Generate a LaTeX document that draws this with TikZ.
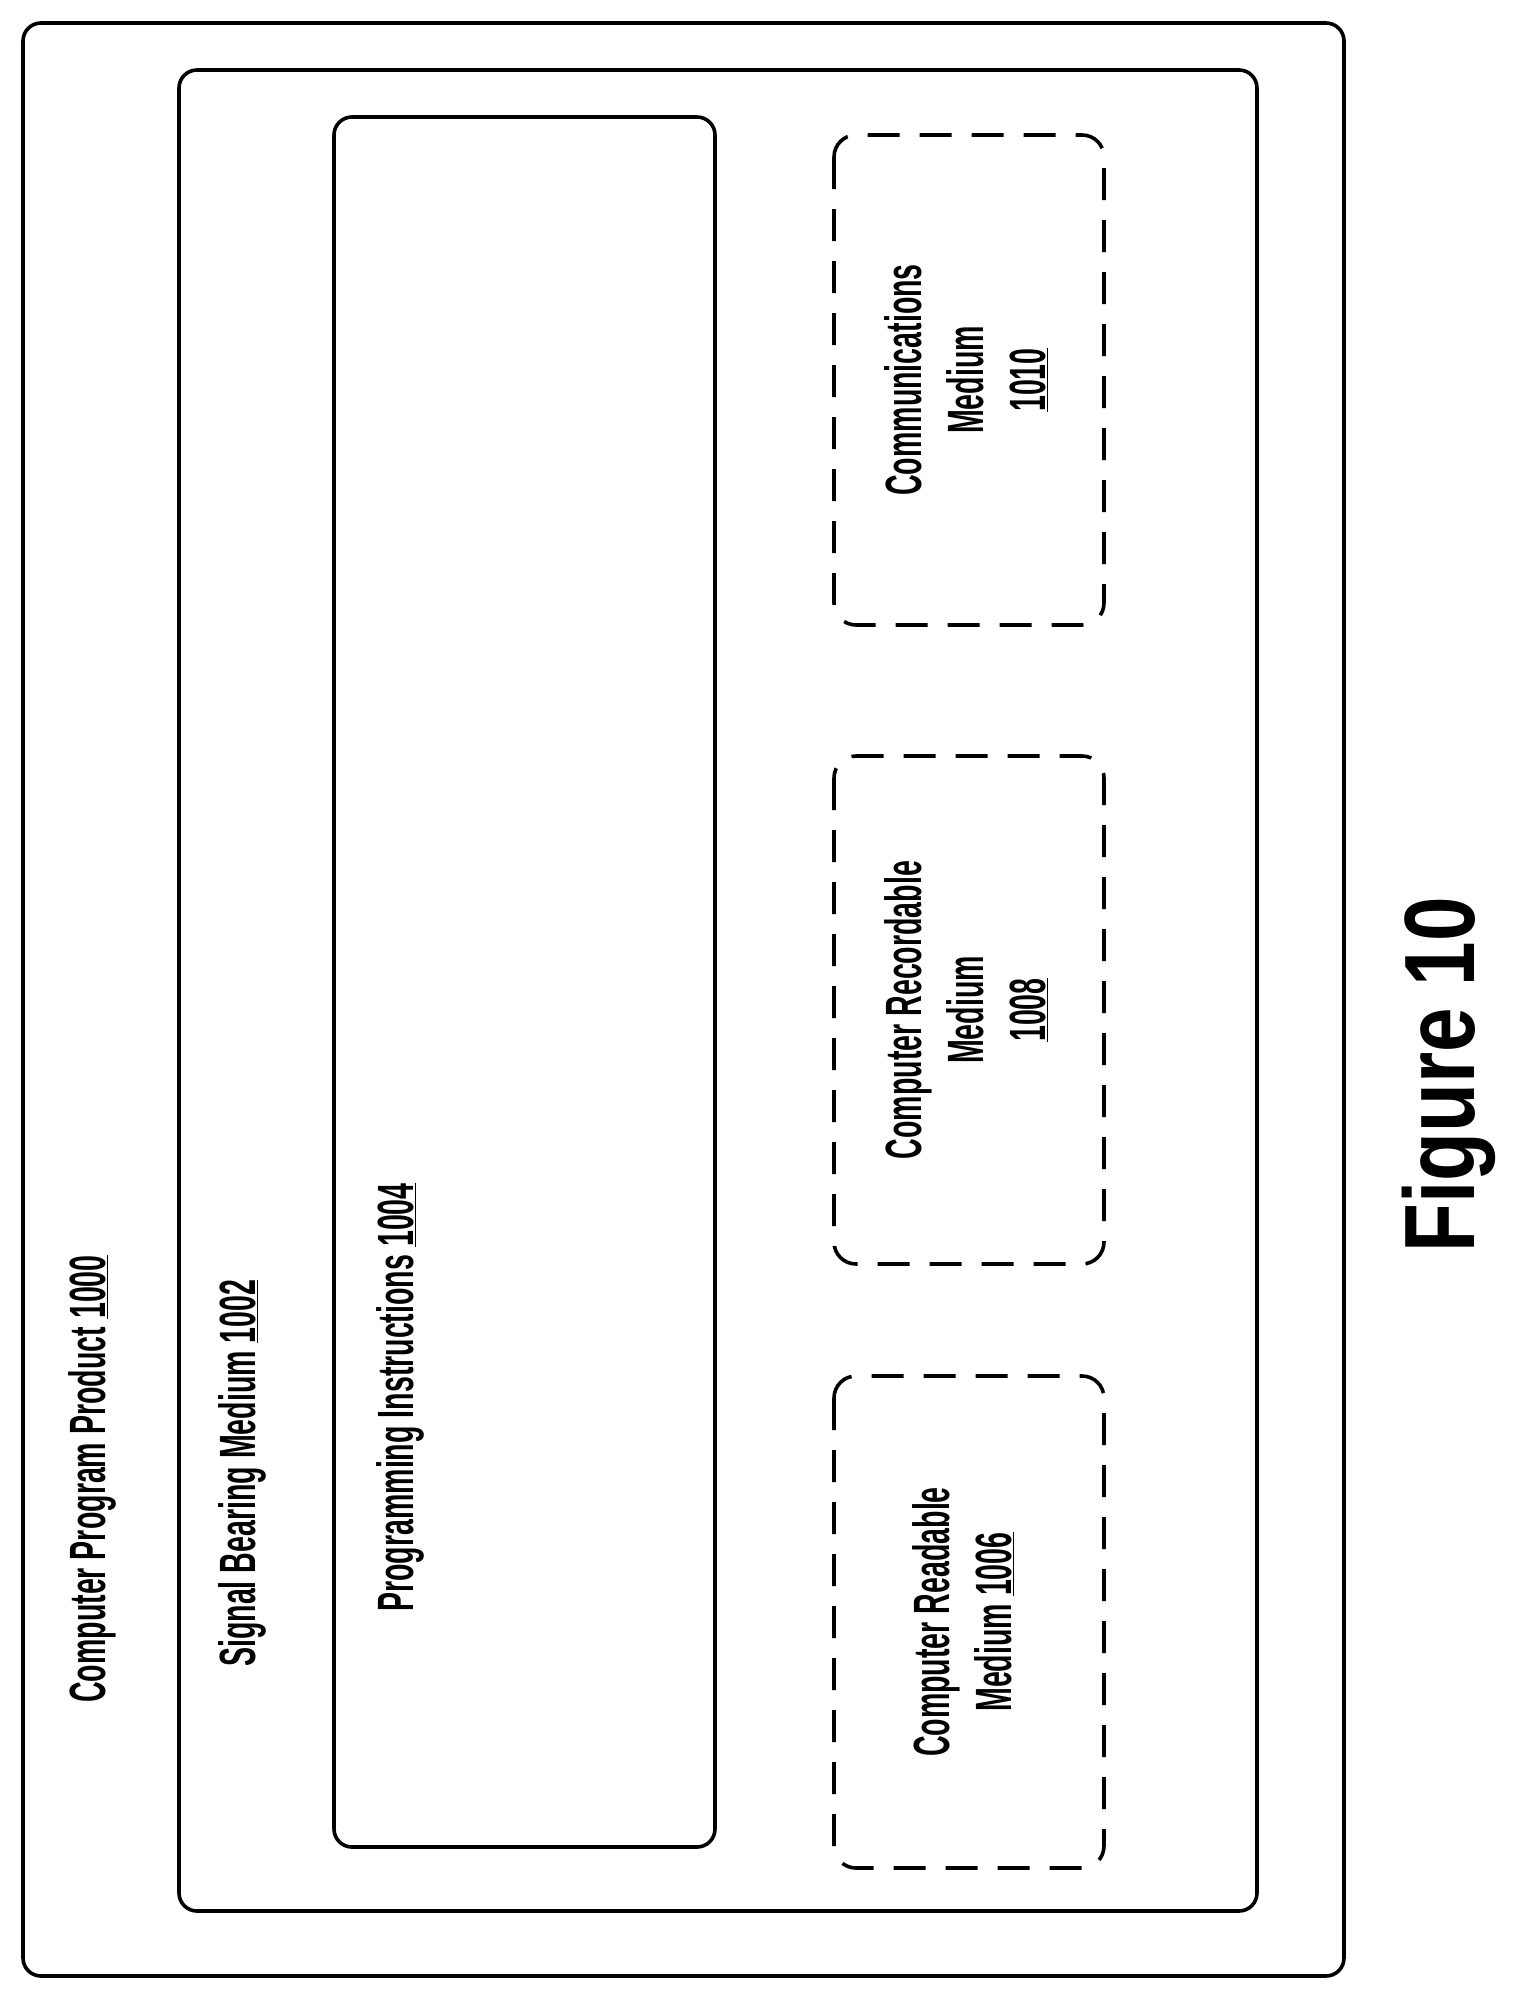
\documentclass[tikz,border=0pt]{standalone}
\usepackage{fontspec}
\setmainfont[FakeStretch=0.56]{Liberation Sans}
\newfontfamily\figfont[FakeStretch=0.8]{Liberation Sans}
\begin{document}
\begin{tikzpicture}[x=1pt,y=-1pt,
  box/.style={draw=black,line width=3.6pt,rounded corners=18pt},
  dbox/.style={draw=black,line width=3.6pt,rounded corners=22pt,dash pattern=on 32pt off 20pt},
  lbl/.style={rotate=90,anchor=base west,inner sep=0pt,font=\bfseries\fontsize{51}{60}\selectfont},
  clbl/.style={rotate=90,align=center,inner sep=0pt,font=\bfseries\fontsize{51}{62}\selectfont}]
\useasboundingbox (0,0) rectangle (1519,1995);
\draw[box] (23,23) rectangle (1344,1976);
\draw[box] (179,70) rectangle (1257,1911);
\draw[box] (334,117) rectangle (715,1847);
\draw[dbox] (834,135) rectangle (1104,625);
\draw[dbox] (834,756) rectangle (1104,1264);
\draw[dbox] (834,1376) rectangle (1104,1868);
\node[lbl] (cpp) at (105,1703) {Computer Program Product \underline{1000}};
\node[lbl] (sbm) at (255,1667) {Signal Bearing Medium \underline{1002}};
\node[lbl] (pi) at (413,1612) {Programming Instructions \underline{1004}};
\node[clbl] (crm) at (963,1622) {Computer Readable\\Medium \underline{1006}};
\node[clbl] (crec) at (966,1010) {Computer Recordable\\Medium\\\underline{1008}};
\node[clbl] (com) at (966,380) {Communications\\Medium\\\underline{1010}};
\node[rotate=90,inner sep=0pt,font=\figfont\bfseries\fontsize{100}{110}\selectfont] (fig) at (1449,1075) {Figure 10};
\end{tikzpicture}
\end{document}
